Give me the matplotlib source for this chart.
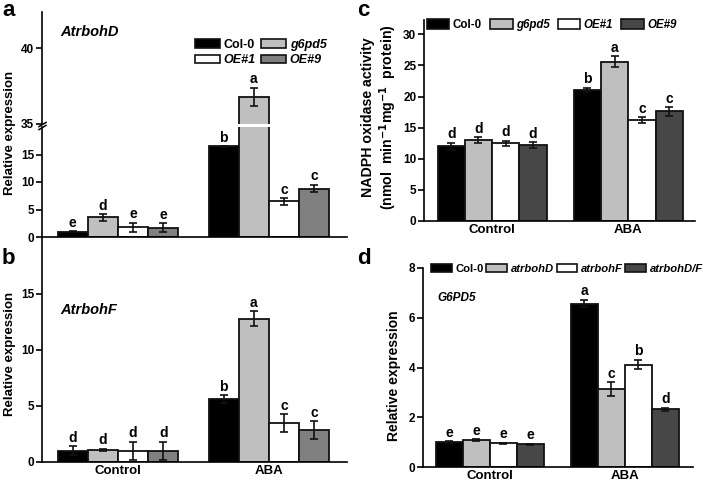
import numpy as np
import matplotlib
matplotlib.use('Agg')
import matplotlib.pyplot as plt
from matplotlib.patches import Patch

plt.rcParams['font.family'] = ['Liberation Sans', 'DejaVu Sans']
plt.rcParams['font.weight'] = 'bold'
plt.rcParams['axes.linewidth'] = 1.2

groups = ['Control', 'ABA']

# panel a - AtrbohD
a_names = ['Col-0', 'g6pd5', 'OE#1', 'OE#9']
a_ctrl = [1.0, 3.6, 1.8, 1.7]
a_ctrl_err = [0.05, 0.6, 0.8, 0.8]
a_aba = [16.5, 36.8, 6.5, 8.8]
a_aba_err = [0.05, 0.6, 0.6, 0.7]
a_ctrl_let = ['e', 'd', 'e', 'e']
a_aba_let = ['b', 'a', 'c', 'c']

# panel b - AtrbohF
b_ctrl = [1.0, 1.1, 1.0, 1.0]
b_ctrl_err = [0.4, 0.08, 0.8, 0.8]
b_aba = [5.6, 12.8, 3.5, 2.85]
b_aba_err = [0.35, 0.65, 0.78, 0.78]
b_ctrl_let = ['d', 'd', 'd', 'd']
b_aba_let = ['b', 'a', 'c', 'c']

# panel c - NADPH oxidase activity
c_ctrl = [12.0, 13.0, 12.5, 12.2]
c_ctrl_err = [0.6, 0.5, 0.4, 0.5]
c_aba = [21.1, 25.6, 16.2, 17.6]
c_aba_err = [0.3, 0.9, 0.5, 0.7]
c_ctrl_let = ['d', 'd', 'd', 'd']
c_aba_let = ['b', 'a', 'c', 'c']

# panel d - G6PD5
d_names = ['Col-0', 'atrbohD', 'atrbohF', 'atrbohD/F']
d_ctrl = [1.0, 1.08, 0.95, 0.92]
d_ctrl_err = [0.03, 0.05, 0.03, 0.02]
d_aba = [6.57, 3.13, 4.12, 2.32]
d_aba_err = [0.15, 0.28, 0.2, 0.07]
d_ctrl_let = ['e', 'e', 'e', 'e']
d_aba_let = ['a', 'c', 'b', 'd']

cols_ab = ['black', '#bfbfbf', 'white', '#808080']
cols_cd = ['black', '#bfbfbf', 'white', '#474747']

W, H = 709, 482
fig = plt.figure(figsize=(W / 100, H / 100), dpi=100)


def box(l, t, r, b):
    # pixel box -> figure fraction
    return [l / W, 1 - b / H, (r - l) / W, (b - t) / H]


bw = 0.2
offs = (np.arange(4) - 1.5) * bw
LET_FS = 10


def bars(ax, vals, errs, colors):
    for g in range(2):
        for i in range(4):
            x = g + offs[i]
            ax.bar(x, vals[g][i], bw, color=colors[i], edgecolor='#111111', linewidth=1.3, zorder=2)
            ax.errorbar(x, vals[g][i], yerr=errs[g][i], fmt='none', ecolor='#111111',
                        elinewidth=1.2, capsize=3, capthick=1.2, zorder=3)


def letters(pick, vals, errs, lets):
    for g in range(2):
        for i in range(4):
            top = vals[g][i] + errs[g][i]
            pick(top).annotate(lets[g][i], (g + offs[i], top), xytext=(0, 1),
                               textcoords='offset points', ha='center', va='bottom',
                               fontsize=LET_FS, fontweight='bold')


def style(ax, xlim, ylim, yticks, xlabels=True):
    ax.set_xlim(*xlim)
    ax.set_ylim(*ylim)
    ax.set_yticks(yticks)
    ax.spines['top'].set_visible(False)
    ax.spines['right'].set_visible(False)
    ax.tick_params(axis='y', direction='out', length=4, width=1.2, labelsize=8.5, pad=1.5)
    ax.tick_params(axis='x', length=0, labelsize=9.5, pad=2.5)
    if xlabels:
        ax.set_xticks([0, 1])
        ax.set_xticklabels(groups, fontweight='bold')
    else:
        ax.set_xticks([])


def legend(ax, colors, names, order, x, y, fs, ncol, **kw):
    hs = [Patch(facecolor=colors[k], edgecolor='#111111', linewidth=1.2) for k in order]
    lg = ax.legend(handles=hs, labels=[names[k] for k in order], ncol=ncol, loc='upper left',
                   bbox_to_anchor=(x / W, 1 - y / H), bbox_transform=fig.transFigure,
                   frameon=False, fontsize=fs, borderpad=0, borderaxespad=0, **kw)
    for t in lg.get_texts():
        if t.get_text() != 'Col-0':
            t.set_style('italic')


# ---- panel a (broken axis) ----
ax_lo = fig.add_axes(box(42, 127, 347, 237))
ax_hi = fig.add_axes(box(42, 12, 347, 124))
a_vals = [a_ctrl, a_aba]
a_errs = [a_ctrl_err, a_aba_err]
for ax in (ax_lo, ax_hi):
    bars(ax, a_vals, a_errs, cols_ab)
letters(lambda top: ax_lo if top < 20 else ax_hi, a_vals, a_errs, [a_ctrl_let, a_aba_let])
style(ax_lo, (-0.503, 1.517), (0, 20), [0, 5, 10, 15], xlabels=False)
style(ax_hi, (-0.503, 1.517), (35, 42.4), [35, 40], xlabels=False)
ax_hi.spines['bottom'].set_visible(False)
kw = dict(marker=[(-1, -0.6), (1, 0.6)], markersize=6, linestyle='none', color='k', mec='k', mew=1.1,
          clip_on=False)
ax_hi.plot([0], [0], transform=ax_hi.transAxes, **kw)
ax_lo.plot([0], [1], transform=ax_lo.transAxes, **kw)
fig.text(60 / W, 1 - 32 / H, 'AtrbohD', fontsize=10.5, fontweight='bold', style='italic', va='center')
legend(ax_hi, cols_ab, a_names, [0, 2, 1, 3], 195, 39, 9, 2, handlelength=2.0,
       handleheight=0.65, handletextpad=0.3, columnspacing=0.4, labelspacing=0.25)

# ---- panel b ----
ax_b = fig.add_axes(box(42, 238, 347, 462))
bars(ax_b, [b_ctrl, b_aba], [b_ctrl_err, b_aba_err], cols_ab)
letters(lambda top: ax_b, [b_ctrl, b_aba], [b_ctrl_err, b_aba_err], [b_ctrl_let, b_aba_let])
style(ax_b, (-0.503, 1.517), (0, 20), [0, 5, 10, 15])
fig.text(60 / W, 1 - 310 / H, 'AtrbohF', fontsize=10.5, fontweight='bold', style='italic', va='center')

# ---- panel c ----
ax_c = fig.add_axes(box(424, 20, 695, 221))
bars(ax_c, [c_ctrl, c_aba], [c_ctrl_err, c_aba_err], cols_cd)
letters(lambda top: ax_c, [c_ctrl, c_aba], [c_ctrl_err, c_aba_err], [c_ctrl_let, c_aba_let])
style(ax_c, (-0.5, 1.49), (0, 32.3), [0, 5, 10, 15, 20, 25, 30])
legend(ax_c, cols_cd, a_names, [0, 1, 2, 3], 427, 19, 8.3, 4, handlelength=1.95,
       handleheight=0.85, handletextpad=0.3, columnspacing=0.7)

# ---- panel d ----
ax_d = fig.add_axes(box(423, 268, 693, 467))
bars(ax_d, [d_ctrl, d_aba], [d_ctrl_err, d_aba_err], cols_cd)
letters(lambda top: ax_d, [d_ctrl, d_aba], [d_ctrl_err, d_aba_err], [d_ctrl_let, d_aba_let])
style(ax_d, (-0.496, 1.504), (0, 8), [0, 2, 4, 6, 8])
legend(ax_d, cols_cd, d_names, [0, 1, 2, 3], 431, 264, 8.1, 4, handlelength=1.85,
       handleheight=0.6, handletextpad=0.3, columnspacing=0.25)
fig.text(437 / W, 1 - 298 / H, 'G6PD5', fontsize=8.5, fontweight='bold', style='italic', va='center')

# y labels
fig.text(10 / W, 1 - 133 / H, 'Relative expression', rotation=90, ha='center', va='center',
         fontsize=9.5, fontweight='bold')
fig.text(10 / W, 1 - 354 / H, 'Relative expression', rotation=90, ha='center', va='center',
         fontsize=9.5, fontweight='bold')
fig.text(380 / W, 1 - 117 / H, 'NADPH oxidase activity\n(nmol  min$^{\\mathbf{-1}}$mg$^{\\mathbf{-1}}$  protein)',
         rotation=90, ha='center', va='center', fontsize=10.2, fontweight='bold', linespacing=1.2)
fig.text(394 / W, 1 - 376 / H, 'Relative expression', rotation=90, ha='center', va='center',
         fontsize=10, fontweight='bold')

# panel letters
for lab, px, py in [('a', 2, 0), ('b', 2, 248), ('c', 357, 0), ('d', 357, 248)]:
    fig.text(px / W, 1 - py / H, lab, fontsize=16, fontweight='bold', ha='left', va='top')

fig.savefig('out.png', dpi=100)
